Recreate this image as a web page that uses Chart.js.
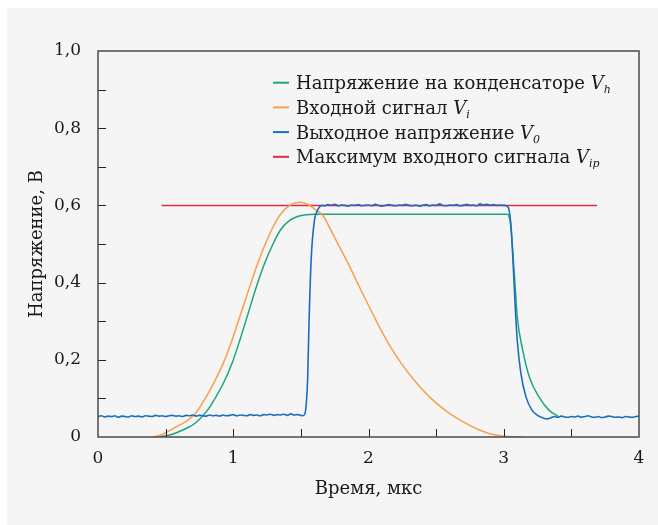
<!DOCTYPE html>
<html lang="ru">
<head>
  <meta charset="UTF-8" />
  <title>Напряжение</title>
  <script src="https://cdn.jsdelivr.net/npm/chart.js"></script>
  <style>
    html, body { margin: 0; padding: 0; background: #ffffff; overflow: hidden; }
    #panel { position: absolute; left: 7px; top: 8px; width: 651px; height: 517px; background: #f5f5f5; }
    canvas { display: block; }
  </style>
</head>
<body>
  <div id="panel"><canvas id="pulseChart" width="651" height="517"></canvas></div>

  <script>
    // входной сигнал Vi
    const inputT = [0.41, 0.48, 0.556, 0.64, 0.716, 0.80, 0.86, 0.925, 0.99, 1.048, 1.11, 1.171, 1.23, 1.294, 1.35, 1.417, 1.49, 1.55, 1.614, 1.663, 1.72, 1.786, 1.85, 1.909, 1.97, 2.03, 2.09, 2.155, 2.24, 2.33, 2.45, 2.58, 2.70, 2.82, 2.91, 3.0, 3.14];
    const inputV = [0, 0.007, 0.022, 0.038, 0.059, 0.104, 0.143, 0.19, 0.25, 0.311, 0.377, 0.44, 0.494, 0.544, 0.577, 0.600, 0.608, 0.603, 0.587, 0.574, 0.537, 0.492, 0.449, 0.406, 0.362, 0.32, 0.279, 0.238, 0.192, 0.150, 0.104, 0.066, 0.039, 0.018, 0.007, 0.002, 0];

    // напряжение на конденсаторе Vh
    const holdT = [0.46, 0.556, 0.64, 0.716, 0.80, 0.86, 0.925, 0.99, 1.048, 1.11, 1.171, 1.23, 1.294, 1.35, 1.417, 1.48, 1.54, 1.60, 3.028, 3.04, 3.05, 3.078, 3.10, 3.14, 3.19, 3.26, 3.336, 3.40];
    const holdV = [0, 0.008, 0.02, 0.035, 0.065, 0.097, 0.138, 0.19, 0.25, 0.32, 0.389, 0.448, 0.50, 0.537, 0.561, 0.572, 0.576, 0.577, 0.577, 0.570, 0.553, 0.423, 0.311, 0.225, 0.155, 0.104, 0.069, 0.054];

    // выходное напряжение V0, по участкам
    const outLowT = [0, 0.025, 0.05, 0.075, 0.1, 0.125, 0.15, 0.175, 0.2, 0.225, 0.25, 0.275, 0.3, 0.325, 0.35, 0.375, 0.4, 0.425, 0.45, 0.475, 0.5, 0.525, 0.55, 0.575, 0.6, 0.625, 0.65, 0.675, 0.7, 0.725, 0.75, 0.775, 0.8, 0.825, 0.85, 0.875, 0.9, 0.925, 0.95, 0.975, 1.0, 1.025, 1.05, 1.075, 1.1, 1.125, 1.15, 1.175, 1.2, 1.225, 1.25, 1.275, 1.3, 1.325, 1.35, 1.375, 1.4, 1.425, 1.45, 1.475, 1.5];
    const outLowV = [0.053, 0.055, 0.052, 0.054, 0.053, 0.055, 0.051, 0.054, 0.053, 0.052,
                     0.055, 0.053, 0.054, 0.052, 0.055, 0.054, 0.053, 0.056, 0.054, 0.055,
                     0.053, 0.055, 0.056, 0.054, 0.055, 0.053, 0.056, 0.055, 0.057, 0.054,
                     0.056, 0.055, 0.054, 0.057, 0.055, 0.056, 0.054, 0.057, 0.055, 0.056,
                     0.058, 0.055, 0.057, 0.056, 0.055, 0.058, 0.056, 0.057, 0.055, 0.058,
                     0.057, 0.059, 0.056, 0.058, 0.057, 0.059, 0.056, 0.060, 0.057, 0.058,
                     0.056];
    const outRiseT = [1.515, 1.53, 1.54, 1.55, 1.56, 1.577, 1.60, 1.62, 1.638, 1.655];
    const outRiseV = [0.055, 0.060, 0.086, 0.15, 0.294, 0.466, 0.561, 0.585, 0.596, 0.600];
    const outHighT = [1.675, 1.7, 1.725, 1.75, 1.775, 1.8, 1.825, 1.85, 1.875, 1.9, 1.925, 1.95, 1.975, 2.0, 2.025, 2.05, 2.075, 2.1, 2.125, 2.15, 2.175, 2.2, 2.225, 2.25, 2.275, 2.3, 2.325, 2.35, 2.375, 2.4, 2.425, 2.45, 2.475, 2.5, 2.525, 2.55, 2.575, 2.6, 2.625, 2.65, 2.675, 2.7, 2.725, 2.75, 2.775, 2.8, 2.825, 2.85, 2.875, 2.9, 2.925, 2.95, 2.975, 3.0];
    const outHighV = [0.599, 0.602, 0.600, 0.603, 0.599, 0.601, 0.600, 0.598, 0.601, 0.600,
                      0.602, 0.599, 0.600, 0.601, 0.599, 0.603, 0.600, 0.598, 0.600, 0.602,
                      0.600, 0.599, 0.601, 0.600, 0.603, 0.600, 0.599, 0.601, 0.598, 0.600,
                      0.602, 0.599, 0.601, 0.600, 0.604, 0.600, 0.599, 0.601, 0.600, 0.602,
                      0.599, 0.600, 0.603, 0.600, 0.601, 0.599, 0.604, 0.601, 0.603, 0.600,
                      0.602, 0.600, 0.601, 0.600];
    const outFallT = [3.02, 3.04, 3.055, 3.067, 3.085, 3.10, 3.127, 3.164, 3.21, 3.25, 3.287, 3.32];
    const outFallV = [0.599, 0.587, 0.54, 0.466, 0.337, 0.25, 0.164, 0.104, 0.069, 0.056, 0.050, 0.047];
    const outTailT = [3.35, 3.375, 3.4, 3.425, 3.45, 3.475, 3.5, 3.525, 3.55, 3.575, 3.6, 3.625, 3.65, 3.675, 3.7, 3.725, 3.75, 3.775, 3.8, 3.825, 3.85, 3.875, 3.9, 3.925, 3.95, 3.975, 4.0];
    const outTailV = [0.050, 0.053, 0.051, 0.054, 0.052, 0.051, 0.053, 0.052, 0.054, 0.051,
                      0.053, 0.055, 0.052, 0.051, 0.053, 0.050, 0.052, 0.054, 0.053, 0.051,
                      0.052, 0.050, 0.053, 0.052, 0.051, 0.053, 0.054];

    // максимум входного сигнала Vip
    const peakT = [0.47, 3.69];
    const peakV = [0.6, 0.6];

    const xTickMinor = [0.5, 1, 1.5, 2, 2.5, 3, 3.5];
    const yTickMinor = [0.1, 0.2, 0.3, 0.4, 0.5, 0.6, 0.7, 0.8, 0.9];

    const legendItems = [
      { text: 'Напряжение на конденсаторе ', sub: 'h', color: '#1da57a' },
      { text: 'Входной сигнал ', sub: 'i', color: '#f7a04c' },
      { text: 'Выходное напряжение ', sub: '0', color: '#1a6ec0' },
      { text: 'Максимум входного сигнала ', sub: 'ip', color: '#e0294c' }
    ];

    const FONT = '"DejaVu Serif", serif';
    const TEXT = '#1a1a1a';

    const pts = (xs, ys) => xs.map((x, i) => ({ x, y: ys[i] }));

    const framePlugin = {
      id: 'frame',
      afterDraw(chart) {
        const { ctx, chartArea: a, scales: { x, y } } = chart;
        ctx.save();

        // засечки внутрь
        ctx.strokeStyle = '#222';
        ctx.lineWidth = 1;
        ctx.beginPath();
        yTickMinor.forEach(v => {
          const py = Math.round(y.getPixelForValue(v)) + 0.5;
          ctx.moveTo(a.left, py);
          ctx.lineTo(a.left + 8, py);
        });
        xTickMinor.forEach(v => {
          const px = Math.round(x.getPixelForValue(v)) + 0.5;
          ctx.moveTo(px, a.bottom);
          ctx.lineTo(px, a.bottom - 8);
        });
        ctx.stroke();

        // рамка
        ctx.strokeStyle = '#4a4a4a';
        ctx.lineWidth = 1.5;
        ctx.strokeRect(a.left, a.top, a.right - a.left, a.bottom - a.top);

        // подписи осей
        ctx.fillStyle = TEXT;
        ctx.font = '18px ' + FONT;
        ctx.textAlign = 'center';
        ctx.textBaseline = 'middle';
        ctx.fillText('Время, мкс', (a.left + a.right) / 2, 481);
        ctx.translate(30, (a.top + a.bottom) / 2);
        ctx.rotate(-Math.PI / 2);
        ctx.fillText('Напряжение, В', 0, 0);
        ctx.restore();

        // легенда
        ctx.save();
        ctx.textAlign = 'left';
        ctx.textBaseline = 'alphabetic';
        legendItems.forEach((item, i) => {
          const mid = 74.7 + i * 24.7;
          ctx.strokeStyle = item.color;
          ctx.lineWidth = 2;
          ctx.beginPath();
          ctx.moveTo(266, mid);
          ctx.lineTo(282, mid);
          ctx.stroke();

          const base = mid + 6.5;
          let tx = 289;
          ctx.fillStyle = TEXT;
          ctx.font = '18px ' + FONT;
          ctx.fillText(item.text, tx, base);
          tx += ctx.measureText(item.text).width;
          ctx.font = 'italic 18px ' + FONT;
          ctx.fillText('V', tx, base);
          tx += ctx.measureText('V').width;
          ctx.font = 'italic 11px ' + FONT;
          ctx.fillText(item.sub, tx, base + 4);
        });
        ctx.restore();
      }
    };

    const lineStyle = (color, order) => ({
      borderColor: color,
      borderWidth: 1.5,
      pointRadius: 0,
      fill: false,
      cubicInterpolationMode: 'monotone',
      order
    });

    new Chart(document.getElementById('pulseChart').getContext('2d'), {
      type: 'line',
      data: {
        datasets: [
          { label: 'Максимум входного сигнала Vip', data: pts(peakT, peakV), ...lineStyle('#e0294c', 4) },
          { label: 'Напряжение на конденсаторе Vh', data: pts(holdT, holdV), ...lineStyle('#1da57a', 3) },
          { label: 'Входной сигнал Vi', data: pts(inputT, inputV), ...lineStyle('#f7a04c', 2) },
          {
            label: 'Выходное напряжение V0',
            data: pts(
              [...outLowT, ...outRiseT, ...outHighT, ...outFallT, ...outTailT],
              [...outLowV, ...outRiseV, ...outHighV, ...outFallV, ...outTailV]
            ),
            ...lineStyle('#1a6ec0', 1),
            borderWidth: 1.6
          }
        ]
      },
      options: {
        responsive: false,
        animation: false,
        layout: { padding: { top: 43, right: 19, left: 0, bottom: 0 } },
        plugins: { legend: { display: false }, tooltip: { enabled: false } },
        scales: {
          x: {
            type: 'linear',
            min: 0,
            max: 4,
            grid: { display: false },
            border: { display: false },
            ticks: { stepSize: 1, color: TEXT, padding: 3, maxRotation: 0, font: { family: FONT, size: 17 } },
            afterFit: s => { s.height = 88; }
          },
          y: {
            type: 'linear',
            min: 0,
            max: 1,
            grid: { display: false },
            border: { display: false },
            ticks: {
              stepSize: 0.2,
              color: TEXT,
              padding: 9,
              font: { family: FONT, size: 17 },
              callback: v => v === 0 ? '0' : v.toFixed(1).replace('.', ',')
            },
            afterFit: s => { s.width = 91; }
          }
        }
      },
      plugins: [framePlugin]
    });
  </script>
</body>
</html>
